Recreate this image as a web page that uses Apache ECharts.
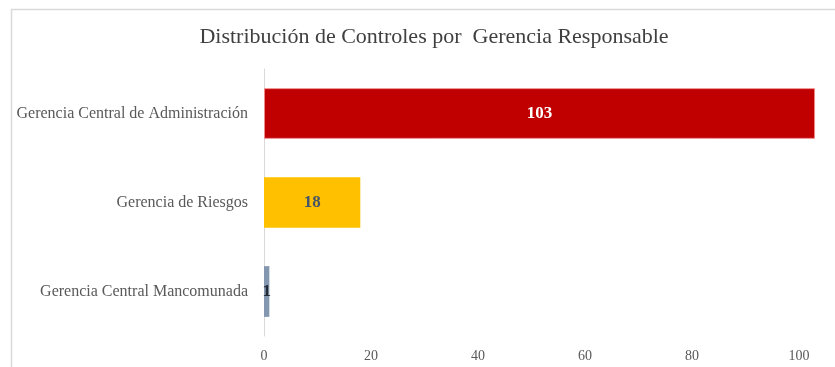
<!DOCTYPE html>
<html>
<head>
<meta charset="utf-8">
<script src="https://cdn.jsdelivr.net/npm/echarts@6/dist/echarts.min.js"></script>
<style>
  html, body { margin: 0; padding: 0; background: #fff; }
  #chart { width: 835px; height: 367px; }
</style>
</head>
<body>
<div id="chart"></div>
<script>
// Controls per responsible management unit
const categories = [
  'Gerencia Central de Administración',
  'Gerencia de Riesgos',
  'Gerencia Central Mancomunada'
];
const values = [103, 18, 1];
const barColors = ['#C00000', '#FFC000', '#8497B0'];
const labelColors = ['#FFFFFF', '#44546A', '#222A35'];
const xTicks = { min: 0, max: 120, interval: 20 };

const serif = '"Liberation Serif", "DejaVu Serif", serif';

const chart = echarts.init(document.getElementById('chart'), null, { renderer: 'canvas' });

const seriesData = values.map((v, i) => ({
  value: v,
  itemStyle: {
    color: barColors[i],
    borderColor: i === 0 ? 'rgba(240,140,140,0.9)' : barColors[i],
    borderWidth: i === 0 ? 1 : 0
  },
  label: { color: labelColors[i] }
}));

chart.setOption({
  backgroundColor: '#ffffff',
  animation: false,
  title: {
    text: 'Distribución de Controles por  Gerencia Responsable',
    left: 429,
    textAlign: 'center',
    top: 21,
    textStyle: {
      fontFamily: serif,
      fontSize: 22,
      fontWeight: 'normal',
      color: '#404040'
    }
  },
  graphic: [{
    type: 'rect',
    silent: true,
    shape: { x: 11.5, y: 9.5, width: 900, height: 400 },
    style: { fill: 'none', stroke: '#d9d9d9', lineWidth: 1.5 },
    z: 0
  }],
  grid: {
    left: 264,
    top: 69,
    width: 642,
    height: 267,
    outerBoundsMode: 'none'
  },
  xAxis: {
    type: 'value',
    min: xTicks.min,
    max: xTicks.max,
    interval: xTicks.interval,
    axisLine: { show: false },
    axisTick: { show: false },
    splitLine: { show: false },
    axisLabel: {
      margin: 13,
      color: '#595959',
      fontFamily: serif,
      fontSize: 14
    }
  },
  yAxis: {
    type: 'category',
    inverse: true,
    data: categories,
    axisLine: { show: true, lineStyle: { color: '#d9d9d9', width: 1 } },
    axisTick: { show: false },
    axisLabel: {
      margin: 16,
      color: '#595959',
      fontFamily: serif,
      fontSize: 16
    }
  },
  series: [{
    type: 'bar',
    data: seriesData,
    barCategoryGap: '43%',
    label: {
      show: true,
      position: 'inside',
      fontFamily: serif,
      fontSize: 17,
      fontWeight: 'bold'
    }
  }]
});
</script>
</body>
</html>
